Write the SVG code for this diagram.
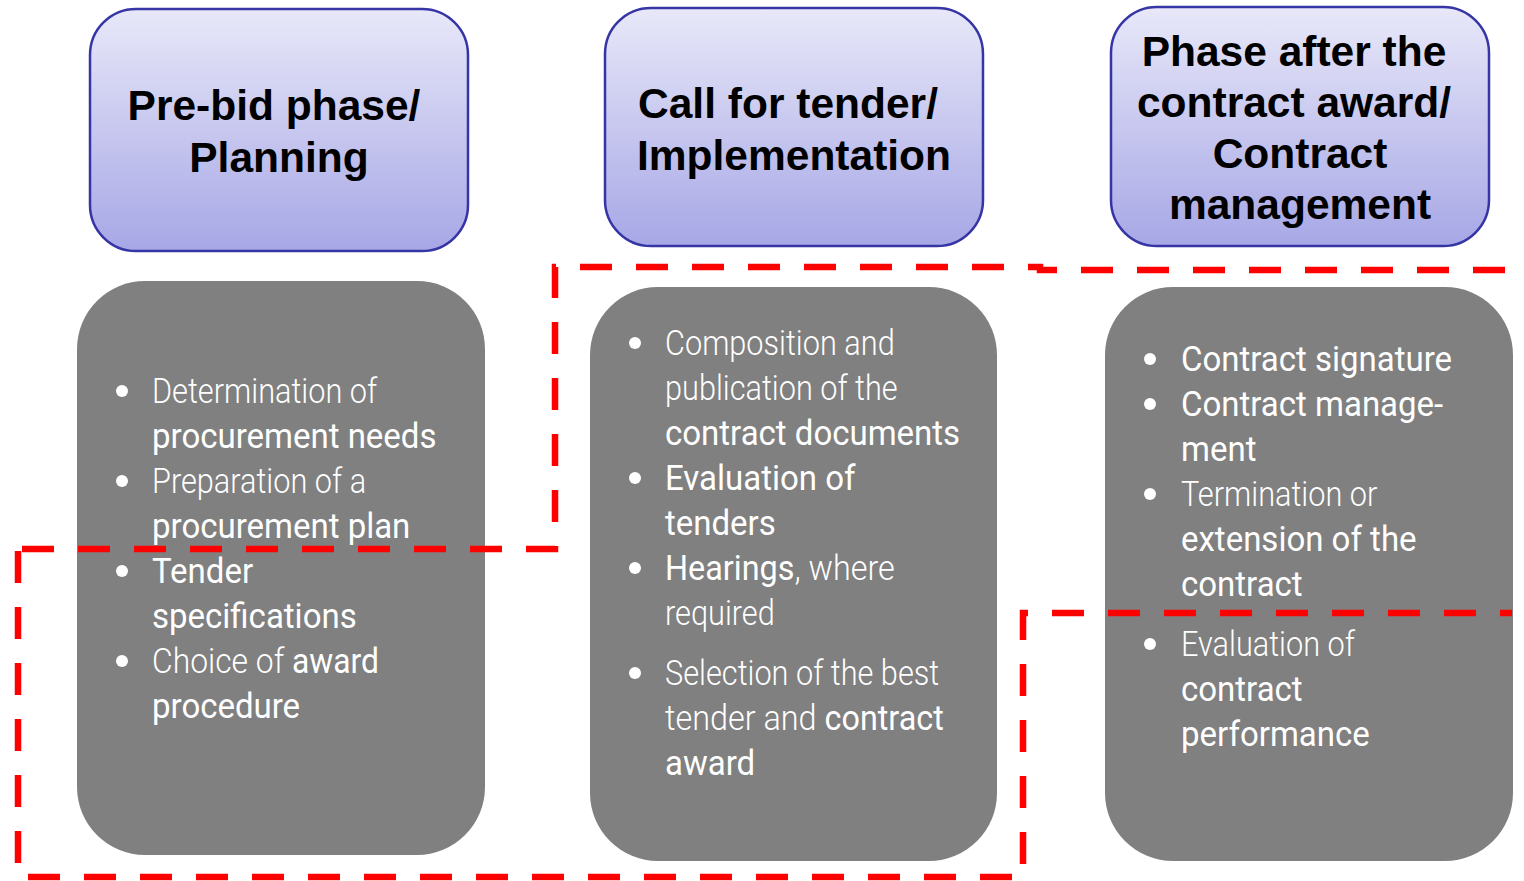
<svg xmlns="http://www.w3.org/2000/svg" width="1524" height="881" viewBox="0 0 1524 881">
  <defs>
    <linearGradient id="phaseFill" x1="0" y1="0" x2="0" y2="1">
      <stop offset="0" stop-color="#e8e8f9"/>
      <stop offset="1" stop-color="#a7a7e6"/>
    </linearGradient>
    <style>
      .phase { fill: url(#phaseFill); stroke: #3535a5; stroke-width: 2.5; }
      .head { font-family: "Liberation Sans", Arial, sans-serif; font-weight: 700; font-size: 42.5px; fill: #000; text-anchor: middle; }
      .card { fill: #808080; }
      .item { font-family: Roboto, "Liberation Sans", sans-serif; font-size: 35px; fill: #fff; font-weight: 300; }
      .strong { font-weight: 400; }
      .dot { fill: #fff; }
      .zone { fill: none; stroke: #ff0000; stroke-width: 6.5; stroke-dasharray: 32 24; }
    </style>
  </defs>
  <rect width="1524" height="881" fill="#fff"/>

  <!-- phase headers -->
  <g id="phase-planning">
    <rect class="phase" x="90" y="9" width="378" height="242" rx="46"/>
    <text class="head" x="274" y="120">Pre-bid phase/</text>
    <text class="head" x="279" y="172">Planning</text>
  </g>
  <g id="phase-tender">
    <rect class="phase" x="605" y="8" width="378" height="238" rx="46"/>
    <text class="head" x="788" y="118">Call for tender/</text>
    <text class="head" x="794" y="170">Implementation</text>
  </g>
  <g id="phase-contract">
    <rect class="phase" x="1111" y="7" width="378" height="239" rx="46"/>
    <text class="head" x="1294" y="66">Phase after the</text>
    <text class="head" x="1294" y="117">contract award/</text>
    <text class="head" x="1300" y="168">Contract</text>
    <text class="head" x="1300" y="219">management</text>
  </g>

  <!-- activity cards: light lines, regular lines and mixed lines use their own horizontal condensing -->
  <g id="card-planning">
    <rect class="card" x="77" y="281" width="408" height="574" rx="68"/>
    <circle class="dot" cx="122" cy="391" r="6"/>
    <circle class="dot" cx="122" cy="481" r="6"/>
    <circle class="dot" cx="122" cy="571" r="6"/>
    <circle class="dot" cx="122" cy="661" r="6"/>
    <g transform="translate(152,0) scale(0.877,1)">
      <text class="item" x="0" y="403">Determination of</text>
      <text class="item" x="0" y="493">Preparation of a</text>
    </g>
    <g transform="translate(152,0) scale(0.943,1)">
      <text class="item strong" x="0" y="448">procurement needs</text>
      <text class="item strong" x="0" y="538">procurement plan</text>
      <text class="item strong" x="0" y="583">Tender</text>
      <text class="item strong" x="0" y="628">specifications</text>
      <text class="item strong" x="0" y="718">procedure</text>
    </g>
    <g transform="translate(152,0) scale(0.91,1)">
      <text class="item" x="0" y="673">Choice of <tspan class="strong">award</tspan></text>
    </g>
  </g>

  <g id="card-tender">
    <rect class="card" x="590" y="287" width="407" height="574" rx="68"/>
    <circle class="dot" cx="635" cy="343" r="6"/>
    <circle class="dot" cx="635" cy="478" r="6"/>
    <circle class="dot" cx="635" cy="568" r="6"/>
    <circle class="dot" cx="635" cy="673" r="6"/>
    <g transform="translate(665,0) scale(0.877,1)">
      <text class="item" x="0" y="355">Composition and</text>
      <text class="item" x="0" y="400">publication of the</text>
      <text class="item" x="0" y="625">required</text>
      <text class="item" x="0" y="685">Selection of the best</text>
    </g>
    <g transform="translate(665,0) scale(0.943,1)">
      <text class="item strong" x="0" y="445">contract documents</text>
      <text class="item strong" x="0" y="490">Evaluation of</text>
      <text class="item strong" x="0" y="535">tenders</text>
      <text class="item strong" x="0" y="775">award</text>
    </g>
    <g transform="translate(665,0) scale(0.925,1)">
      <text class="item" x="0" y="580"><tspan class="strong">Hearings</tspan>, where</text>
      <text class="item" x="0" y="730">tender and <tspan class="strong">contract</tspan></text>
    </g>
  </g>

  <g id="card-contract">
    <rect class="card" x="1105" y="287" width="408" height="574" rx="68"/>
    <circle class="dot" cx="1150" cy="359" r="6"/>
    <circle class="dot" cx="1150" cy="404" r="6"/>
    <circle class="dot" cx="1150" cy="494" r="6"/>
    <circle class="dot" cx="1150" cy="644" r="6"/>
    <g transform="translate(1181,0) scale(0.877,1)">
      <text class="item" x="0" y="506">Termination or</text>
      <text class="item" x="0" y="656">Evaluation of</text>
    </g>
    <g transform="translate(1181,0) scale(0.943,1)">
      <text class="item strong" x="0" y="371">Contract signature</text>
      <text class="item strong" x="0" y="416">Contract manage-</text>
      <text class="item strong" x="0" y="461">ment</text>
      <text class="item strong" x="0" y="551">extension of the</text>
      <text class="item strong" x="0" y="596">contract</text>
      <text class="item strong" x="0" y="701">contract</text>
      <text class="item strong" x="0" y="746">performance</text>
    </g>
  </g>

  <!-- dashed zone outlines -->
  <g id="zones">
    <path class="zone" d="M 22 549 H 555 V 267 H 1040 V 270 H 1524"/>
    <path class="zone" d="M 18 551 V 877 H 1023 V 613 H 1512"/>
  </g>
</svg>
